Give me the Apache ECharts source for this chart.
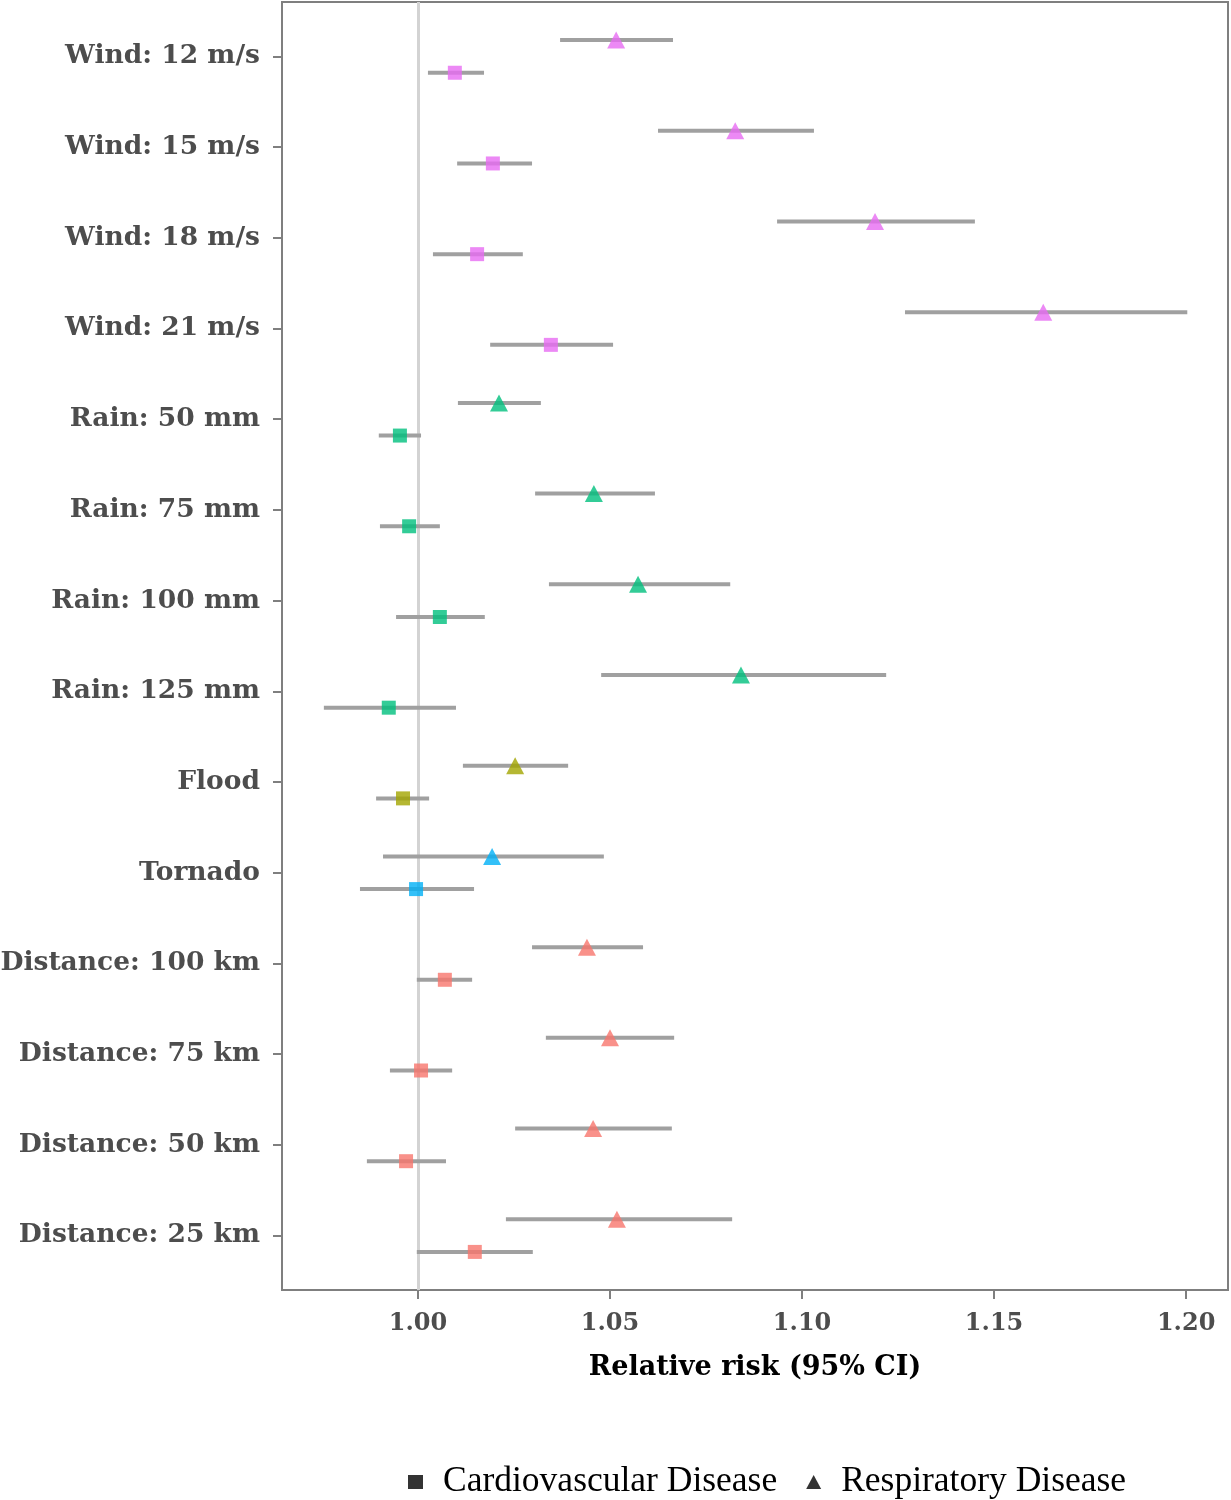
<!DOCTYPE html>
<html>
<head>
<meta charset="utf-8">
<script src="https://cdn.jsdelivr.net/npm/echarts@6/dist/echarts.min.js"></script>
<style>html,body{margin:0;padding:0;background:#fff}#c{width:1231px;height:1500px}</style>
</head>
<body>
<div id="c"></div>
<script>
const categories = ["Wind: 12 m/s","Wind: 15 m/s","Wind: 18 m/s","Wind: 21 m/s","Rain: 50 mm","Rain: 75 mm","Rain: 100 mm","Rain: 125 mm","Flood","Tornado","Distance: 100 km","Distance: 75 km","Distance: 50 km","Distance: 25 km"];
const groups = ["Wind","Wind","Wind","Wind","Rain","Rain","Rain","Rain","Flood","Tornado","Distance","Distance","Distance","Distance"];
const groupColors = {Distance:"#F8766D", Flood:"#A3A500", Rain:"#00BF7D", Tornado:"#00B0F6", Wind:"#E76BF3"};
const respRR  = [1.0516,1.0826,1.1190,1.1628,1.0211,1.0458,1.0573,1.0841,1.0253,1.0193,1.0440,1.0500,1.0456,1.0518];
const respLo  = [1.0370,1.0625,1.0935,1.1268,1.0104,1.0305,1.0341,1.0477,1.0117,0.9909,1.0297,1.0333,1.0253,1.0229];
const respHi  = [1.0664,1.1031,1.1450,1.2003,1.0320,1.0617,1.0813,1.1219,1.0391,1.0484,1.0586,1.0667,1.0661,1.0818];
const cardRR  = [1.0096,1.0195,1.0154,1.0346,0.9953,0.9977,1.0057,0.9924,0.9961,0.9995,1.0070,1.0008,0.9969,1.0148];
const cardLo  = [1.0026,1.0102,1.0039,1.0188,0.9898,0.9901,0.9943,0.9755,0.9891,0.9849,0.9997,0.9927,0.9867,0.9997];
const cardHi  = [1.0172,1.0297,1.0273,1.0508,1.0008,1.0057,1.0174,1.0099,1.0029,1.0146,1.0141,1.0089,1.0073,1.0299];
const xTicks = [1.00,1.05,1.10,1.15,1.20];
const seriesNames = ["Cardiovascular Disease","Respiratory Disease"];

const dodge = 0.18;
const idx = categories.map((_, i) => i);
const barData = [];
idx.forEach(i => {
  barData.push([respLo[i], respHi[i], i - dodge]);
  barData.push([cardLo[i], cardHi[i], i + dodge]);
});

const chart = echarts.init(document.getElementById('c'));
chart.setOption({
  animation: false,
  backgroundColor: '#fff',
  grid: {left: 282, top: 2, right: 3, bottom: 210, show: true, borderColor: '#7f7f7f', borderWidth: 2,
    backgroundColor: 'transparent', containLabel: false, outerBoundsMode: 'none'},
  xAxis: {
    type: 'value', min: 0.9646, max: 1.2109,
    name: 'Relative risk (95% CI)', nameLocation: 'middle', nameGap: 64,
    nameTextStyle: {fontFamily: 'DejaVu Serif', fontWeight: 'bold', fontSize: 27, color: '#000'},
    axisLine: {show: false, onZero: false},
    splitLine: {show: false},
    axisTick: {show: true, length: 9, lineStyle: {color: '#7f7f7f', width: 2}, customValues: xTicks},
    axisLabel: {customValues: xTicks, margin: 22, formatter: v => v.toFixed(2),
      fontFamily: 'DejaVu Serif', fontWeight: 'bold', fontSize: 24, color: '#4d4d4d'}
  },
  yAxis: {
    type: 'value', min: -0.6, max: 13.6, inverse: true,
    axisLine: {show: false, onZero: false},
    splitLine: {show: false},
    axisTick: {show: true, length: 9, lineStyle: {color: '#7f7f7f', width: 2}, customValues: idx},
    axisLabel: {customValues: idx, margin: 22, formatter: v => categories[Math.round(v)],
      fontFamily: 'DejaVu Serif', fontWeight: 'bold', fontSize: 26.5, color: '#4d4d4d'}
  },
  legend: {
    top: 1459, left: 403, itemWidth: 15, itemHeight: 14, itemGap: 29,
    textStyle: {fontFamily: 'Liberation Serif', fontSize: 35.5, color: '#000', padding: [0, 0, 0, 15]},
    data: [
      {name: seriesNames[0], icon: 'rect', itemStyle: {color: '#000'}},
      {name: seriesNames[1], icon: 'triangle', itemStyle: {color: '#000'}}
    ]
  },
  series: [
    {
      type: 'custom', name: 'ci', silent: true, z: 2,
      data: barData,
      encode: {x: [0, 1], y: 2},
      renderItem: (params, api) => {
        const p1 = api.coord([api.value(0), api.value(2)]);
        const p2 = api.coord([api.value(1), api.value(2)]);
        return {type: 'line', shape: {x1: p1[0], y1: p1[1], x2: p2[0], y2: p2[1]},
          style: {stroke: '#a0a0a0', lineWidth: 4}};
      },
      markLine: {
        silent: true, symbol: 'none', label: {show: false},
        lineStyle: {color: '#d3d3d3', width: 3, type: 'solid'},
        data: [{xAxis: 1.0}], z: 1
      }
    },
    {
      type: 'scatter', name: seriesNames[0], symbol: 'rect', symbolSize: 14, z: 3,
      itemStyle: {color: '#000'},
      data: idx.map(i => ({value: [cardRR[i], i + dodge], itemStyle: {color: groupColors[groups[i]]}}))
    },
    {
      type: 'scatter', name: seriesNames[1], symbol: 'triangle', symbolSize: [18, 17], z: 3,
      itemStyle: {color: '#000'},
      data: idx.map(i => ({value: [respRR[i], i - dodge], itemStyle: {color: groupColors[groups[i]]}}))
    }
  ]
});
</script>
</body>
</html>
